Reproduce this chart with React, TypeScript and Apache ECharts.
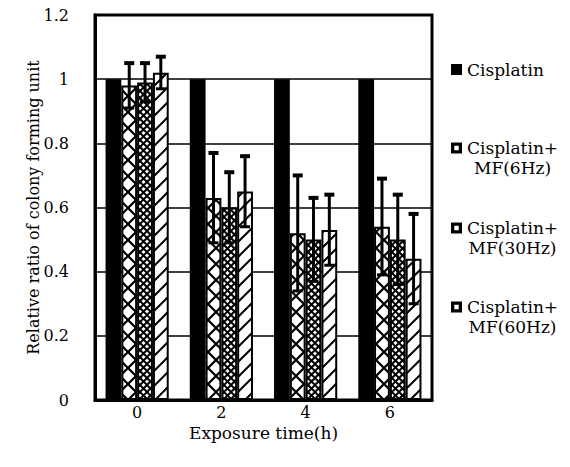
import React, { useEffect, useRef } from "react";
import * as echarts from "echarts";

const categories = ["0", "2", "4", "6"];
const seriesNames = ["Cisplatin", "Cisplatin+MF(6Hz)", "Cisplatin+MF(30Hz)", "Cisplatin+MF(60Hz)"];
const cisplatin = [1, 1, 1, 1];
const mf6 = [0.98, 0.63, 0.52, 0.54];
const mf6Err = [0.07, 0.14, 0.18, 0.15];
const mf30 = [0.99, 0.6, 0.5, 0.5];
const mf30Err = [0.06, 0.11, 0.13, 0.14];
const mf60 = [1.02, 0.65, 0.53, 0.44];
const mf60Err = [0.05, 0.11, 0.11, 0.14];
const yTicks = [0, 0.2, 0.4, 0.6, 0.8, 1, 1.2];

const FONT = "DejaVu Serif";

function makePattern(kind: string) {
  const c = document.createElement("canvas");
  let size = 16;
  if (kind === "dense") size = 7;
  if (kind === "diag") size = 15;
  c.width = size;
  c.height = size;
  const ctx = c.getContext("2d")!;
  ctx.fillStyle = "#fff";
  ctx.fillRect(0, 0, size, size);
  ctx.strokeStyle = "#000";
  ctx.lineCap = "square";
  if (kind === "cross") {
    ctx.lineWidth = 2.2;
    ctx.beginPath();
    ctx.moveTo(0, 0); ctx.lineTo(size, size);
    ctx.moveTo(size, 0); ctx.lineTo(0, size);
    ctx.stroke();
  } else if (kind === "dense") {
    ctx.lineWidth = 2;
    ctx.beginPath();
    ctx.moveTo(0, 0); ctx.lineTo(size, size);
    ctx.moveTo(size, 0); ctx.lineTo(0, size);
    ctx.stroke();
  } else {
    ctx.lineWidth = 2;
    ctx.beginPath();
    ctx.moveTo(-2, size + 2); ctx.lineTo(size + 2, -2);
    ctx.moveTo(-2, 2); ctx.lineTo(2, -2);
    ctx.moveTo(size - 2, size + 2); ctx.lineTo(size + 2, size - 2);
    ctx.stroke();
  }
  return { image: c.toDataURL(), repeat: "repeat", imageWidth: size, imageHeight: size } as any;
}

export default function App() {
  const ref = useRef<HTMLDivElement>(null);
  useEffect(() => {
    const chart = echarts.init(ref.current!, null, { renderer: "svg" });
    const patCross = makePattern("cross");
    const patDense = makePattern("dense");
    const patDiag = makePattern("diag");

    const errSeries = (k: number, means: number[], errs: number[]) => ({
      type: "custom",
      name: seriesNames[k] + " error",
      z: 10,
      silent: true,
      data: means.map((m, i) => [i, m, errs[i]]),
      encode: { x: 0, y: 1 },
      renderItem: (params: any, api: any) => {
        const ci = api.value(0);
        const m = api.value(1);
        const e = api.value(2);
        const band = api.size([1, 0])[0];
        const bw = (band * 0.75) / 4;
        const x = api.coord([ci, m])[0] + (k - 1.5) * bw;
        const yHi = api.coord([ci, m + e])[1];
        const yLo = api.coord([ci, m - e])[1];
        const half = 5;
        return {
          type: "group",
          children: [
            { type: "line", shape: { x1: x, y1: yHi, x2: x, y2: yLo }, style: { stroke: "#000", lineWidth: 3 } },
            { type: "line", shape: { x1: x - half, y1: yHi, x2: x + half, y2: yHi }, style: { stroke: "#000", lineWidth: 4 } },
            { type: "line", shape: { x1: x - half, y1: yLo, x2: x + half, y2: yLo }, style: { stroke: "#000", lineWidth: 3 } },
          ],
        };
      },
    });

    const holeIcon = "path://M0,0H10V10H0Z M3,3V7H7V3Z";
    const LFS = 17;
    const LLH = 20;
    const richA = { a: { fontFamily: FONT, fontSize: LFS, lineHeight: LLH, align: "center", color: "#000" } };
    const legendTops = [54.5, 113, 193, 272];
    const legends = seriesNames.map((n, i) => ({
      data: [
        {
          name: n,
          icon: i === 0 ? "rect" : holeIcon,
          itemStyle: { color: "#000", borderWidth: 0 },
        },
      ],
      left: 446,
      top: legendTops[i],
      orient: "vertical",
      itemWidth: 11,
      itemHeight: 11,
      selectedMode: false,
      formatter: (name: string) => {
        if (i === 0) return name;
        const p = name.indexOf("+");
        return "{a| }\n{a|" + name.slice(0, p + 1) + "}\n{a|" + name.slice(p + 1) + "}";
      },
      textStyle: { fontFamily: FONT, fontSize: LFS, lineHeight: LLH, color: "#000", rich: richA },
    }));

    chart.setOption({
      animation: false,
      backgroundColor: "#fff",
      grid: { left: 95, right: 138, top: 15, bottom: 67, show: true, borderColor: "#000", borderWidth: 3, outerBoundsMode: "none" } as any,
      legend: legends,
      xAxis: {
        type: "category",
        data: categories,
        axisTick: { show: false },
        axisLine: { show: true, lineStyle: { color: "#000", width: 3 } },
        axisLabel: { fontFamily: FONT, fontSize: 16, color: "#000", margin: 4 },
        name: "Exposure time(h)",
        nameLocation: "middle",
        nameGap: 24,
        nameMoveOverlap: false,
        nameTextStyle: { fontFamily: FONT, fontSize: 17, color: "#000" },
      },
      yAxis: {
        type: "value",
        min: 0,
        max: 1.2,
        interval: 0.2,
        axisLine: { show: true, lineStyle: { color: "#000", width: 3 } },
        axisTick: { show: false },
        splitLine: { show: true, lineStyle: { color: "#000", width: 1.5 } },
        axisLabel: {
          fontFamily: FONT,
          fontSize: 16,
          color: "#000",
          margin: 26,
          formatter: (v: number) => {
            const t = yTicks.find((y) => Math.abs(y - v) < 1e-6);
            return String(t !== undefined ? t : Math.round(v * 10) / 10);
          },
        },
        name: "Relative ratio of colony forming unit",
        nameLocation: "middle",
        nameGap: 54,
        nameMoveOverlap: false,
        nameTextStyle: { fontFamily: FONT, fontSize: 16, color: "#000" },
      },
      series: [
        {
          type: "bar",
          name: seriesNames[0],
          data: cisplatin,
          barGap: "0%",
          barCategoryGap: "25%",
          itemStyle: { color: "#000", borderColor: "#000", borderWidth: 0 },
        },
        {
          type: "bar",
          name: seriesNames[1],
          data: mf6,
          itemStyle: { color: patCross, borderColor: "#000", borderWidth: 2 },
        },
        {
          type: "bar",
          name: seriesNames[2],
          data: mf30,
          itemStyle: { color: patDense, borderColor: "#000", borderWidth: 2 },
        },
        {
          type: "bar",
          name: seriesNames[3],
          data: mf60,
          itemStyle: { color: patDiag, borderColor: "#000", borderWidth: 2 },
        },
        errSeries(1, mf6, mf6Err),
        errSeries(2, mf30, mf30Err),
        errSeries(3, mf60, mf60Err),
      ],
    } as any);
    return () => chart.dispose();
  }, []);
  return <div ref={ref} style={{ position: "fixed", left: 0, top: 0, width: 570, height: 467 }} />;
}
